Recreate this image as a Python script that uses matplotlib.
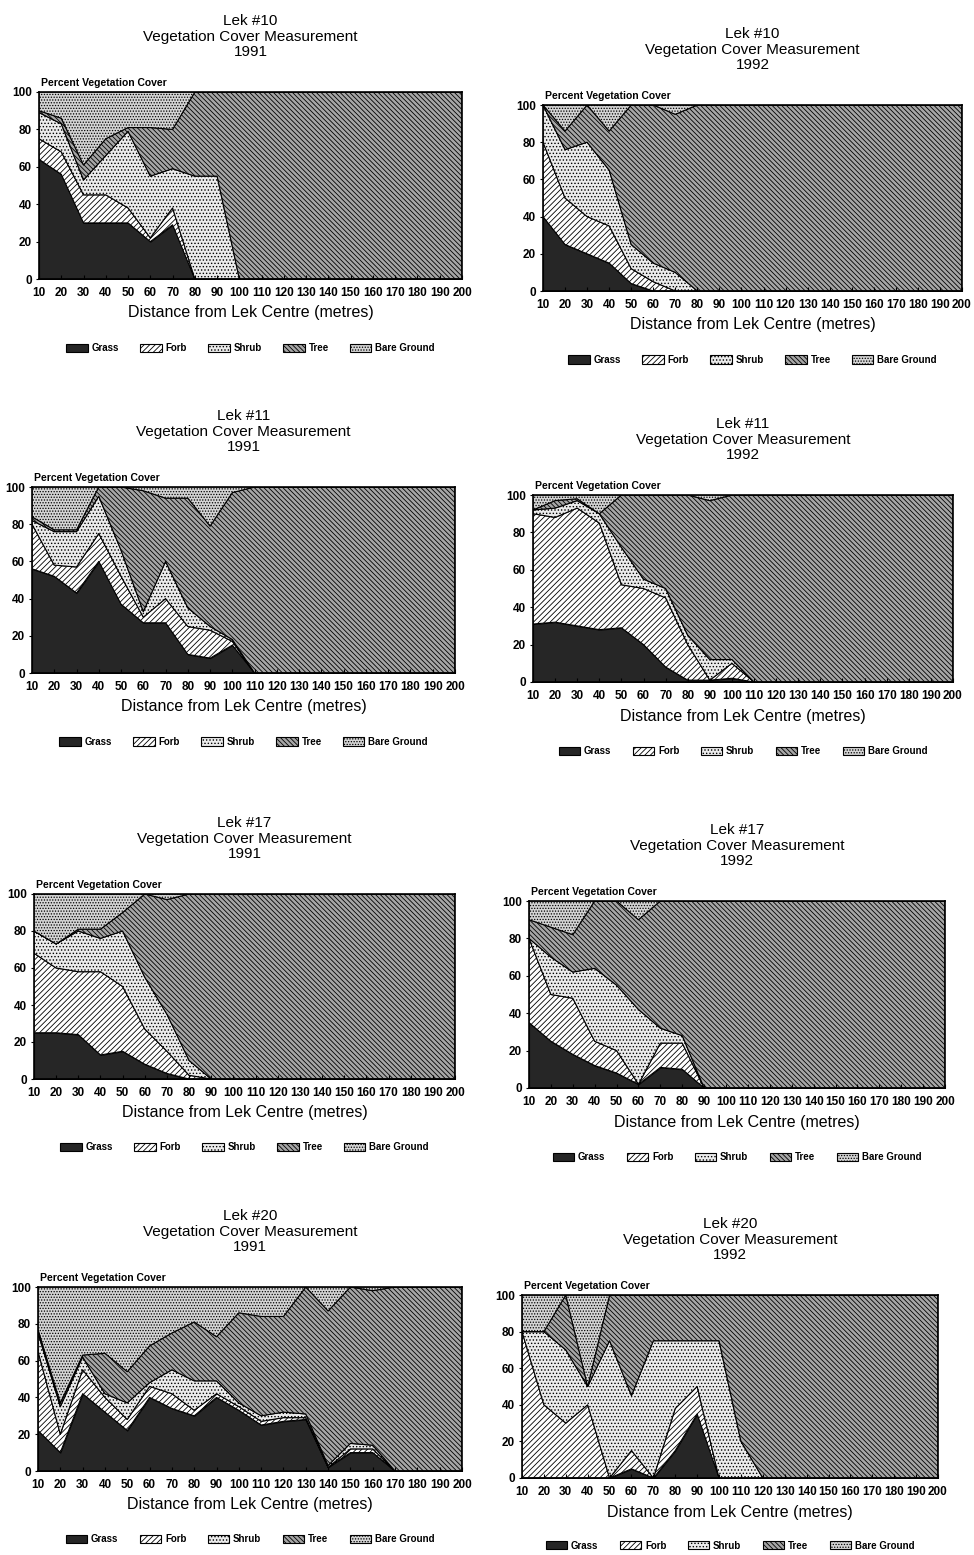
import numpy as np
import matplotlib
matplotlib.use('Agg')
import matplotlib.pyplot as plt
from matplotlib.patches import Patch

plt.rcParams['font.family'] = ['Liberation Sans', 'DejaVu Sans']
plt.rcParams['hatch.linewidth'] = 0.6

distance = list(range(10, 201, 10))
tick_labels = [str(d) for d in distance]
layer_names = ['Grass', 'Forb', 'Shrub', 'Tree', 'Bare Ground']

# percent cover per layer (x = 10..200 m)
lek10_1991_grass = [64, 56, 30, 30, 30, 20, 29, 0, 0, 0, 0, 0, 0, 0, 0, 0, 0, 0, 0, 0]
lek10_1991_forb = [11, 12, 15, 15, 8, 2, 9, 0, 0, 0, 0, 0, 0, 0, 0, 0, 0, 0, 0, 0]
lek10_1991_shrub = [14, 15, 8, 21, 41, 33, 21, 55, 55, 0, 0, 0, 0, 0, 0, 0, 0, 0, 0, 0]
lek10_1991_tree = [1, 3, 8, 9, 2, 26, 21, 45, 45, 100, 100, 100, 100, 100, 100, 100, 100, 100, 100, 100]
lek10_1991_bare = [10, 14, 39, 25, 19, 19, 20, 0, 0, 0, 0, 0, 0, 0, 0, 0, 0, 0, 0, 0]

lek10_1992_grass = [40, 25, 20, 15, 4, 0, 0, 0, 0, 0, 0, 0, 0, 0, 0, 0, 0, 0, 0, 0]
lek10_1992_forb = [40, 25, 20, 20, 8, 5, 0, 0, 0, 0, 0, 0, 0, 0, 0, 0, 0, 0, 0, 0]
lek10_1992_shrub = [20, 26, 40, 30, 13, 10, 10, 0, 0, 0, 0, 0, 0, 0, 0, 0, 0, 0, 0, 0]
lek10_1992_tree = [0, 10, 20, 21, 75, 85, 85, 100, 100, 100, 100, 100, 100, 100, 100, 100, 100, 100, 100, 100]
lek10_1992_bare = [0, 14, 0, 14, 0, 0, 5, 0, 0, 0, 0, 0, 0, 0, 0, 0, 0, 0, 0, 0]

lek11_1991_grass = [56, 52, 43, 60, 37, 27, 27, 10, 8, 15, 0, 0, 0, 0, 0, 0, 0, 0, 0, 0]
lek11_1991_forb = [24, 6, 14, 15, 15, 3, 13, 15, 15, 2, 0, 0, 0, 0, 0, 0, 0, 0, 0, 0]
lek11_1991_shrub = [2, 18, 19, 20, 14, 3, 20, 10, 2, 1, 0, 0, 0, 0, 0, 0, 0, 0, 0, 0]
lek11_1991_tree = [2, 1, 1, 5, 34, 65, 34, 59, 54, 79, 100, 100, 100, 100, 100, 100, 100, 100, 100, 100]
lek11_1991_bare = [16, 23, 23, 0, 0, 2, 6, 6, 21, 3, 0, 0, 0, 0, 0, 0, 0, 0, 0, 0]

lek11_1992_grass = [31, 32, 30, 28, 29, 20, 8, 1, 1, 2, 0, 0, 0, 0, 0, 0, 0, 0, 0, 0]
lek11_1992_forb = [59, 56, 63, 57, 23, 30, 37, 19, 0, 8, 0, 0, 0, 0, 0, 0, 0, 0, 0, 0]
lek11_1992_shrub = [2, 5, 4, 5, 20, 5, 5, 5, 11, 2, 0, 0, 0, 0, 0, 0, 0, 0, 0, 0]
lek11_1992_tree = [0, 4, 1, 0, 28, 45, 50, 75, 85, 88, 100, 100, 100, 100, 100, 100, 100, 100, 100, 100]
lek11_1992_bare = [8, 3, 2, 10, 0, 0, 0, 0, 3, 0, 0, 0, 0, 0, 0, 0, 0, 0, 0, 0]

lek17_1991_grass = [25, 25, 24, 13, 15, 8, 3, 0, 0, 0, 0, 0, 0, 0, 0, 0, 0, 0, 0, 0]
lek17_1991_forb = [43, 35, 34, 45, 35, 19, 12, 2, 0, 0, 0, 0, 0, 0, 0, 0, 0, 0, 0, 0]
lek17_1991_shrub = [12, 13, 22, 18, 30, 28, 20, 8, 0, 0, 0, 0, 0, 0, 0, 0, 0, 0, 0, 0]
lek17_1991_tree = [0, 0, 1, 5, 10, 45, 62, 90, 100, 100, 100, 100, 100, 100, 100, 100, 100, 100, 100, 100]
lek17_1991_bare = [20, 27, 19, 19, 10, 0, 3, 0, 0, 0, 0, 0, 0, 0, 0, 0, 0, 0, 0, 0]

lek17_1992_grass = [35, 25, 18, 12, 8, 2, 11, 10, 0, 0, 0, 0, 0, 0, 0, 0, 0, 0, 0, 0]
lek17_1992_forb = [45, 25, 30, 13, 12, 0, 13, 14, 0, 0, 0, 0, 0, 0, 0, 0, 0, 0, 0, 0]
lek17_1992_shrub = [0, 20, 14, 39, 35, 40, 8, 4, 0, 0, 0, 0, 0, 0, 0, 0, 0, 0, 0, 0]
lek17_1992_tree = [10, 16, 20, 36, 45, 48, 68, 72, 100, 100, 100, 100, 100, 100, 100, 100, 100, 100, 100, 100]
lek17_1992_bare = [10, 14, 18, 0, 0, 10, 0, 0, 0, 0, 0, 0, 0, 0, 0, 0, 0, 0, 0, 0]

lek20_1991_grass = [22, 10, 42, 32, 22, 40, 34, 30, 40, 33, 25, 27, 28, 2, 10, 10, 0, 0, 0, 0]
lek20_1991_forb = [43, 10, 13, 8, 6, 6, 8, 3, 2, 2, 2, 2, 1, 0, 2, 2, 0, 0, 0, 0]
lek20_1991_shrub = [10, 15, 7, 2, 9, 2, 13, 16, 7, 2, 3, 3, 2, 1, 3, 2, 0, 0, 0, 0]
lek20_1991_tree = [2, 2, 1, 22, 17, 20, 20, 32, 24, 49, 54, 52, 69, 84, 85, 84, 100, 100, 100, 100]
lek20_1991_bare = [23, 63, 37, 36, 46, 32, 25, 19, 27, 14, 16, 16, 0, 13, 0, 2, 0, 0, 0, 0]

lek20_1992_grass = [0, 0, 0, 0, 0, 5, 0, 15, 35, 0, 0, 0, 0, 0, 0, 0, 0, 0, 0, 0]
lek20_1992_forb = [80, 40, 30, 40, 0, 10, 0, 23, 15, 0, 0, 0, 0, 0, 0, 0, 0, 0, 0, 0]
lek20_1992_shrub = [0, 40, 40, 10, 75, 30, 75, 37, 25, 75, 20, 0, 0, 0, 0, 0, 0, 0, 0, 0]
lek20_1992_tree = [0, 0, 30, 0, 25, 55, 25, 25, 25, 25, 80, 100, 100, 100, 100, 100, 100, 100, 100, 100]
lek20_1992_bare = [20, 20, 0, 50, 0, 0, 0, 0, 0, 0, 0, 0, 0, 0, 0, 0, 0, 0, 0, 0]

panels = [
    ('Lek #10', '1991', [lek10_1991_grass, lek10_1991_forb, lek10_1991_shrub, lek10_1991_tree, lek10_1991_bare]),
    ('Lek #10', '1992', [lek10_1992_grass, lek10_1992_forb, lek10_1992_shrub, lek10_1992_tree, lek10_1992_bare]),
    ('Lek #11', '1991', [lek11_1991_grass, lek11_1991_forb, lek11_1991_shrub, lek11_1991_tree, lek11_1991_bare]),
    ('Lek #11', '1992', [lek11_1992_grass, lek11_1992_forb, lek11_1992_shrub, lek11_1992_tree, lek11_1992_bare]),
    ('Lek #17', '1991', [lek17_1991_grass, lek17_1991_forb, lek17_1991_shrub, lek17_1991_tree, lek17_1991_bare]),
    ('Lek #17', '1992', [lek17_1992_grass, lek17_1992_forb, lek17_1992_shrub, lek17_1992_tree, lek17_1992_bare]),
    ('Lek #20', '1991', [lek20_1991_grass, lek20_1991_forb, lek20_1991_shrub, lek20_1991_tree, lek20_1991_bare]),
    ('Lek #20', '1992', [lek20_1992_grass, lek20_1992_forb, lek20_1992_shrub, lek20_1992_tree, lek20_1992_bare]),
]

# axes boxes in pixels: left, right, top, bottom
boxes = [(39, 462, 92, 279), (543, 962, 105, 291),
         (32, 455, 487, 673), (533, 953, 495, 682),
         (34, 455, 894, 1079), (529, 945, 901, 1088),
         (38, 462, 1287, 1471), (522, 938, 1295, 1478)]

fills = ['#262626', 'white', '#ebebeb', '#a6a6a6', '#d4d4d4']
hatches = [None, '//////', '.....', '\\' * 7, '......']

W, H = 974, 1555
fig = plt.figure(figsize=(W / 100, H / 100), dpi=100)

for (lek, year, values), (l, r, t, b) in zip(panels, boxes):
    ax = fig.add_axes([l / W, (H - b) / H, (r - l) / W, (b - t) / H])
    ax.stackplot(distance, *values, colors=fills, hatch=hatches,
                 edgecolor='black', linewidth=0.8)
    ax.set_xlim(10, 200)
    ax.set_ylim(0, 100)
    ax.set_xticks(distance)
    ax.set_xticklabels(tick_labels, fontsize=8.5, fontweight='bold')
    ax.set_yticks([0, 20, 40, 60, 80, 100])
    ax.set_yticklabels(['0', '20', '40', '60', '80', '100'], fontsize=8.5, fontweight='bold')
    ax.tick_params(axis='x', direction='in', length=3, pad=6)
    ax.tick_params(axis='y', direction='out', length=2, pad=3)
    for s in ax.spines.values():
        s.set_linewidth(1.2)

    ax.annotate(f'{lek}\nVegetation Cover Measurement\n{year}', xy=(0.5, 1), xycoords='axes fraction',
                xytext=(0, 33), textcoords='offset pixels', ha='center', va='bottom',
                fontsize=11, linespacing=1.12)
    ax.annotate('Percent Vegetation Cover', xy=(0, 1), xycoords='axes fraction',
                xytext=(2, 4), textcoords='offset pixels', ha='left', va='bottom',
                fontsize=7.5, fontweight='bold')
    ax.annotate('Distance from Lek Centre (metres)', xy=(0.5, 0), xycoords='axes fraction',
                xytext=(0, -34), textcoords='offset pixels', ha='center', va='center',
                fontsize=11.5)

    handles = [Patch(facecolor=c, hatch=h, edgecolor='black', linewidth=0.8)
               for c, h in zip(fills, hatches)]
    ax.legend(handles, layer_names, loc='center', bbox_to_anchor=(0.5, -0.37),
              ncol=5, frameon=False, handlelength=2.2, handleheight=0.9,
              columnspacing=2.2, handletextpad=0.4,
              prop={'size': 7, 'weight': 'bold'})

fig.savefig('out.png', dpi=100)
